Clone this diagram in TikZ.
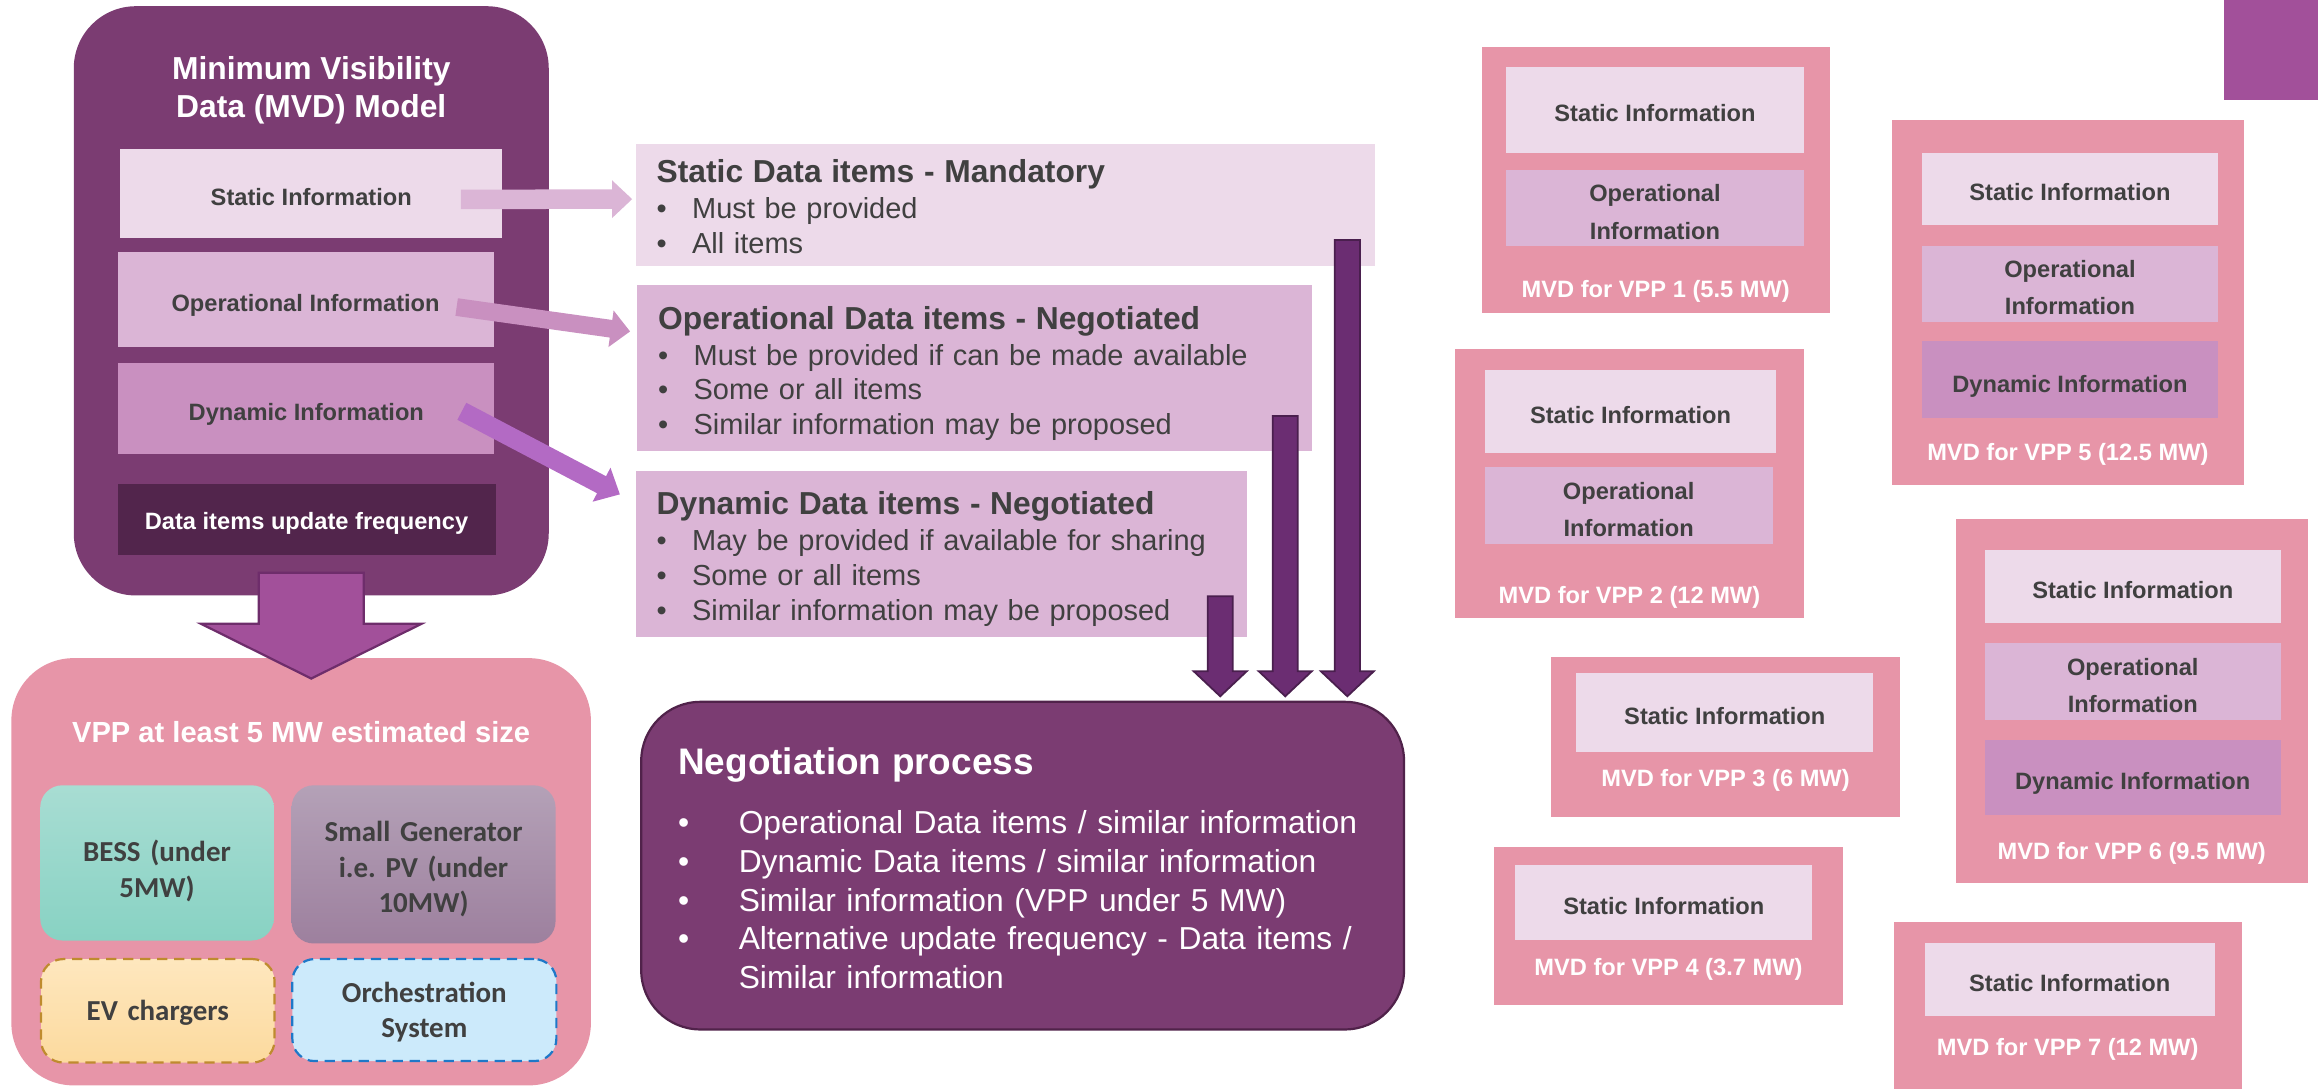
\documentclass[tikz,border=0pt]{standalone}
\usepackage{fontspec}
\setmainfont{Liberation Sans}
\newfontfamily\calfont{Carlito}
\usepackage{tikz}
\usepackage{xcolor}
\usetikzlibrary{calc}

\definecolor{mvdpurple}{HTML}{7B3C72}
\definecolor{negline}{HTML}{50224A}
\definecolor{statfill}{HTML}{EDDAEA}
\definecolor{opfill}{HTML}{DBB5D6}
\definecolor{dynfill}{HTML}{C990C0}
\definecolor{freqfill}{HTML}{52254C}
\definecolor{txtgray}{HTML}{404040}
\definecolor{vpppink}{HTML}{E795A8}
\definecolor{downfill}{HTML}{A2509A}
\definecolor{downline}{HTML}{6E2D6B}
\definecolor{vertfill}{HTML}{6B2D72}
\definecolor{vertline}{HTML}{4A1F4E}
\definecolor{dynarrow}{HTML}{B36AC4}
\definecolor{bessTop}{HTML}{A8DDD3}
\definecolor{bessBot}{HTML}{88D2C3}
\definecolor{genTop}{HTML}{B4A1B7}
\definecolor{genBot}{HTML}{9D809E}
\definecolor{evTop}{HTML}{FEE7BE}
\definecolor{evBot}{HTML}{FCDA9E}
\definecolor{evline}{HTML}{BF8B2E}
\definecolor{orchfill}{HTML}{CCEAFB}
\definecolor{orchline}{HTML}{1E78C8}

\newcommand{\headfont}{\fontsize{21.5}{25}\selectfont\bfseries}
\newcommand{\blt}{\makebox[24pt][l]{\textbullet}}
\newcommand{\nblt}{\makebox[41pt][l]{\textbullet}}

\tikzset{
blkarrow/.style n args={3}{
 to path={
  let \p1=(\tikztostart), \p2=(\tikztotarget),
      \n1={atan2(\y2-\y1,\x2-\x1)}, \n2={veclen(\x2-\x1,\y2-\y1)} in
  {[shift={(\p1)}, rotate=\n1]
   (0pt,{#1*1pt}) -- ({(\n2-#3)*1pt},{#1*1pt}) -- ({(\n2-#3)*1pt},{#2*1pt})
   -- ({\n2*1pt},0pt) -- ({(\n2-#3)*1pt},{-#2*1pt}) -- ({(\n2-#3)*1pt},{-#1*1pt})
   -- (0pt,{-#1*1pt}) -- cycle}
  }
 },
vertarrow/.style={
 blkarrow={8.5}{18}{17},
 fill=vertfill,
 draw=vertline,
 line width=1.2pt
 },
bigarrow/.style={
 blkarrow={35.5}{74.5}{37},
 fill=downfill,
 draw=downline,
 line width=1.5pt
 },
bigbox/.style={
 rectangle,
 rounded corners=42pt,
 fill=mvdpurple,
 anchor=north west,
 inner sep=0pt
 },
vppbox/.style={
 bigbox,
 fill=vpppink
 },
titletext/.style={
 text=white,
 align=center,
 inner sep=0pt,
 font=\fontsize{21.5}{25.4}\selectfont\bfseries
 },
infobox/.style={
 rectangle,
 anchor=north west,
 inner sep=0pt,
 align=center,
 text=txtgray,
 font=\fontsize{16}{25.5}\selectfont\bfseries
 },
oneline/.style={text height=16.5pt, text depth=0pt},
twoline/.style={text width=190pt, text height=11.5pt, text depth=20.5pt},
pinkbox/.style={
 rectangle,
 anchor=north west,
 inner sep=0pt,
 fill=vpppink
 },
mvdlabel/.style={
 text=white,
 inner sep=0pt,
 text height=11.5pt,
 text depth=0pt,
 font=\fontsize{16}{19}\selectfont\bfseries
 },
unitbox/.style={
 rectangle,
 rounded corners=15pt,
 anchor=north west,
 inner sep=0pt,
 align=center,
 text width=150pt,
 text=txtgray,
 font=\calfont\bfseries\fontsize{19.6}{24}\selectfont
 },
datalist/.style={
 rectangle,
 anchor=north west,
 inner xsep=14pt,
 inner ysep=0pt,
 align=left,
 text=txtgray,
 text height=15.7pt,
 font=\fontsize{19.6}{23.5}\selectfont
 },
negbox/.style={
 rectangle,
 rounded corners=40pt,
 anchor=north west,
 inner xsep=25pt,
 inner ysep=0pt,
 align=left,
 fill=mvdpurple,
 draw=negline,
 line width=1.5pt,
 text=white,
 font=\fontsize{21.5}{26.2}\selectfont
 }
}

\begin{document}
\begin{tikzpicture}[x=1pt,y=-1pt]
\useasboundingbox (0,0) rectangle (1568,736);

% MVD model
\node[bigbox, minimum width=321.3pt, minimum height=398.6pt] (mvd) at (49.7,4) {};
\node[titletext] (mvdtitle) at ([yshift=-57pt]mvd.north) {Minimum Visibility\\Data (MVD) Model};
\node[infobox, oneline, fill=statfill, minimum width=258.7pt, minimum height=60.7pt] (stat) at (81,100.3) {Static Information};
\node[infobox, oneline, fill=opfill, minimum width=254.4pt, minimum height=64.2pt] (op) at (79.3,170.4) {Operational Information};
\node[infobox, oneline, fill=dynfill, minimum width=254.4pt, minimum height=61.2pt] (dyn) at (79.8,245.6) {Dynamic Information};
\node[infobox, fill=freqfill, text=white, text height=13.5pt, text depth=0pt, minimum width=255.7pt, minimum height=47.9pt] (freq) at (79.3,327.4) {Data items update frequency};

% VPP
\node[vppbox, minimum width=392pt, minimum height=289pt] (vpp) at (7.5,445) {};
\node[titletext, font=\fontsize{19.7}{24}\selectfont\bfseries] (vpptitle) at ([yshift=-50pt]vpp.north) {VPP at least 5 MW estimated size};
\node[unitbox, top color=bessTop, bottom color=bessBot, text height=14.7pt, text depth=16pt, minimum width=158pt, minimum height=105pt] (bess) at (27,531) {BESS (under\\5MW)};
\node[unitbox, top color=genTop, bottom color=genBot, text height=14.7pt, text depth=45pt, minimum width=178.6pt, minimum height=107pt] (gen) at (197,531) {Small Generator\\i.e.\ PV (under\\10MW)};
\node[unitbox, top color=evTop, bottom color=evBot, draw=evline, line width=1.5pt, dash pattern=on 7pt off 4.5pt, text height=13.6pt, text depth=0pt, minimum width=158pt, minimum height=70pt] (ev) at (27,648) {EV chargers};
\node[unitbox, fill=orchfill, draw=orchline, line width=1.5pt, dash pattern=on 7pt off 4.5pt, text height=13.7pt, text depth=24pt, minimum width=178.6pt, minimum height=69pt] (orch) at (197,648) {Orchestration\\System};
\filldraw[bigarrow] ([yshift=15.6pt]mvd.south) to ([yshift=-14pt]mvd.south |- vpp.north);

% data items
\node[datalist, fill=statfill, text depth=46.3pt, text width=472pt, minimum height=83pt] (sdata) at (430,97)
 {{\headfont Static Data items - Mandatory}\\[1pt]
  \blt Must be provided\\
  \blt All items};
\node[datalist, fill=opfill, text depth=68.6pt, text width=428pt, minimum height=112.4pt] (odata) at (431,192.6)
 {{\headfont Operational Data items - Negotiated}\\[1pt]
  \blt Must be provided if can be made available\\
  \blt Some or all items\\
  \blt Similar information may be proposed};
\node[datalist, fill=opfill, text depth=69.6pt, text width=385pt, minimum height=112.5pt] (ddata) at (430,318.5)
 {{\headfont Dynamic Data items - Negotiated}\\[1pt]
  \blt May be provided if available for sharing\\
  \blt Some or all items\\
  \blt Similar information may be proposed};

\fill[opfill, blkarrow={6.6}{12.8}{13.6}] ([xshift=-28.4pt,yshift=-4pt]stat.east) to ([xshift=-2.4pt,yshift=4pt]sdata.west);
\fill[dynfill, blkarrow={6}{12.5}{13}] ([xshift=-25.2pt,yshift=-5pt]op.east) to ([xshift=-4.8pt,yshift=-31.6pt]odata.north west);
\fill[dynarrow, blkarrow={6.5}{13}{14}] ([xshift=-22.2pt,yshift=-1.8pt]dyn.east) to ([xshift=-10.7pt,yshift=-15.9pt]ddata.north west);

% negotiation
\node[negbox, text height=18.2pt, text depth=141.8pt, text width=466pt, minimum height=221.6pt] (neg) at (433,474)
 {{\fontsize{25}{30}\selectfont\bfseries Negotiation process}\\[14pt]
  \nblt Operational Data items / similar information\\
  \nblt Dynamic Data items / similar information\\
  \nblt Similar information (VPP under 5 MW)\\
  \nblt Alternative update frequency - Data items /\\
  \hspace*{41pt}Similar information};

\coordinate (v1) at ([xshift=-18pt,yshift=28pt]ddata.south east);
\coordinate (v2) at ([xshift=-18pt,yshift=24pt]odata.south east);
\coordinate (v3) at ([xshift=-19pt,yshift=18pt]sdata.south east);
\filldraw[vertarrow] (v1) to ([yshift=3pt]v1 |- neg.north);
\filldraw[vertarrow] (v2) to ([yshift=3pt]v2 |- neg.north);
\filldraw[vertarrow] (v3) to ([yshift=3pt]v3 |- neg.north);

% MVD per VPP
\node[pinkbox, minimum width=235.6pt, minimum height=179.8pt] (p1) at (1002,31.8) {};
\node[infobox, oneline, fill=statfill, minimum width=201pt, minimum height=58pt] (p1s) at (1018.8,45) {Static Information};
\node[infobox, twoline, fill=opfill, minimum width=201pt, minimum height=51pt] (p1o) at (1018.8,115) {Operational\\Information};
\node[mvdlabel] (p1l) at ([yshift=-163.7pt]p1.north) {MVD for VPP 1 (5.5 MW)};

\node[pinkbox, minimum width=238pt, minimum height=247pt] (p5) at (1279.6,81) {};
\node[infobox, oneline, fill=statfill, minimum width=200pt, minimum height=49pt] (p5s) at (1300,103) {Static Information};
\node[infobox, twoline, fill=opfill, minimum width=200pt, minimum height=51.6pt] (p5o) at (1300,166) {Operational\\Information};
\node[infobox, oneline, fill=dynfill, minimum width=200pt, minimum height=52pt] (p5d) at (1300,230.8) {Dynamic Information};
\node[mvdlabel] (p5l) at ([yshift=-225pt]p5.north) {MVD for VPP 5 (12.5 MW)};

\node[pinkbox, minimum width=236pt, minimum height=181.7pt] (p2) at (984,236) {};
\node[infobox, oneline, fill=statfill, minimum width=196.4pt, minimum height=56pt] (p2s) at (1004.6,250) {Static Information};
\node[infobox, twoline, fill=opfill, minimum width=195pt, minimum height=52pt] (p2o) at (1004,316) {Operational\\Information};
\node[mvdlabel] (p2l) at ([yshift=-166.7pt]p2.north) {MVD for VPP 2 (12 MW)};

\node[pinkbox, minimum width=236pt, minimum height=108pt] (p3) at (1049,444.5) {};
\node[infobox, oneline, fill=statfill, minimum width=201pt, minimum height=54pt] (p3s) at (1066,454.8) {Static Information};
\node[mvdlabel] (p3l) at ([yshift=-81.5pt]p3.north) {MVD for VPP 3 (6 MW)};

\node[pinkbox, minimum width=238.4pt, minimum height=246pt] (p6) at (1322.6,351) {};
\node[infobox, oneline, fill=statfill, minimum width=200pt, minimum height=49pt] (p6s) at (1342.5,372) {Static Information};
\node[infobox, twoline, fill=opfill, minimum width=200pt, minimum height=52pt] (p6o) at (1342.5,435) {Operational\\Information};
\node[infobox, oneline, fill=dynfill, minimum width=200pt, minimum height=50.5pt] (p6d) at (1342.5,500.5) {Dynamic Information};
\node[mvdlabel] (p6l) at ([yshift=-224.5pt]p6.north) {MVD for VPP 6 (9.5 MW)};

\node[pinkbox, minimum width=235.6pt, minimum height=106.6pt] (p4) at (1010.6,573) {};
\node[infobox, oneline, fill=statfill, minimum width=201pt, minimum height=50.5pt] (p4s) at (1024.8,585) {Static Information};
\node[mvdlabel] (p4l) at ([yshift=-81pt]p4.north) {MVD for VPP 4 (3.7 MW)};

\node[pinkbox, minimum width=235.5pt, minimum height=130pt] (p7) at (1280.7,623.7) {};
\node[infobox, oneline, fill=statfill, minimum width=196.3pt, minimum height=49pt] (p7s) at (1301.7,638) {Static Information};
\node[mvdlabel] (p7l) at ([yshift=-84.3pt]p7.north) {MVD for VPP 7 (12 MW)};

\fill[downfill] (1504.7,0) rectangle (1580,67.4);
\end{tikzpicture}
\end{document}
